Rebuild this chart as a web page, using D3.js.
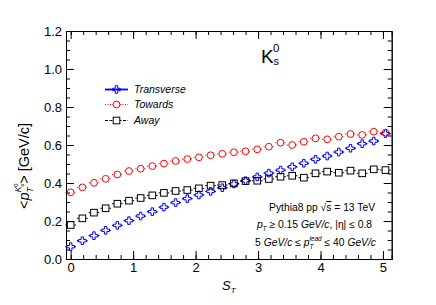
<!DOCTYPE html>
<html>
<head>
<meta charset="utf-8">
<script src="https://d3js.org/d3.v7.min.js"></script>
<style>
  body { margin: 0; background: #fff; }
  text { font-family: "Liberation Sans", Arial, Helvetica, sans-serif; fill: #000; }
  .it { font-style: italic; }
</style>
</head>
<body>
<script>
// S_T bin positions
var sT = [0.00, 0.187, 0.373, 0.56, 0.747, 0.933, 1.12, 1.307, 1.493, 1.68, 1.867, 2.053, 2.24, 2.427,
          2.613, 2.80, 2.987, 3.173, 3.36, 3.547, 3.733, 3.92, 4.107, 4.293, 4.48, 4.667, 4.853, 5.04];

// <pT> of K0s per region
var transverse = [0.065, 0.096, 0.123, 0.151, 0.177, 0.202, 0.226, 0.249, 0.273, 0.297, 0.318, 0.337, 0.356, 0.375,
                  0.395, 0.412, 0.432, 0.452, 0.468, 0.485, 0.504, 0.525, 0.542, 0.563, 0.583, 0.607, 0.621, 0.660];
var towards = [0.351, 0.377, 0.401, 0.422, 0.445, 0.463, 0.475, 0.489, 0.502, 0.516, 0.526, 0.535, 0.546, 0.554,
               0.562, 0.567, 0.577, 0.591, 0.612, 0.600, 0.617, 0.635, 0.630, 0.644, 0.658, 0.653, 0.670, 0.665];
var away = [0.179, 0.214, 0.244, 0.267, 0.291, 0.307, 0.321, 0.335, 0.348, 0.358, 0.363, 0.372, 0.386, 0.389,
            0.398, 0.410, 0.412, 0.421, 0.433, 0.438, 0.428, 0.451, 0.460, 0.454, 0.465, 0.451, 0.472, 0.468];

var xTicks = [0, 1, 2, 3, 4, 5];
var yTicks = [0, 0.2, 0.4, 0.6, 0.8, 1.0, 1.2];

var W = 436, H = 305;
var L = 66, R = 391.7, T = 31, B = 259;
var binHalf = 0.085;

var svg = d3.select("body").append("svg").attr("width", W).attr("height", H);
svg.append("rect").attr("width", W).attr("height", H).attr("fill", "#fff");

var x = d3.scaleLinear().domain([-0.075, 5.14]).range([L, R]);
var y = d3.scaleLinear().domain([0, 1.2]).range([B, T]);

//Axes: major + minor ticks, pointing inward, on all four sides
var xMinor = d3.range(0, 5.15, 0.2);
var yMinor = d3.range(0, 1.201, 0.05);

function styleAxis(g) {
  g.select(".domain").attr("stroke", "#000").attr("stroke-width", 1);
  g.selectAll(".tick line").attr("stroke", "#000");
}

svg.append("g").attr("transform", "translate(0," + B + ")")
  .call(d3.axisBottom(x).tickValues(xMinor).tickSize(-4).tickFormat(""))
  .call(styleAxis);
svg.append("g").attr("transform", "translate(0," + B + ")")
  .call(d3.axisBottom(x).tickValues(xTicks).tickSizeInner(-8).tickSizeOuter(0).tickPadding(4).tickFormat(d3.format("d")))
  .call(styleAxis)
  .selectAll("text").style("font-size", "13px");
svg.append("g").attr("transform", "translate(0," + T + ")")
  .call(d3.axisTop(x).tickValues(xMinor).tickSize(-4).tickFormat(""))
  .call(styleAxis);
svg.append("g").attr("transform", "translate(0," + T + ")")
  .call(d3.axisTop(x).tickValues(xTicks).tickSizeInner(-8).tickSizeOuter(0).tickFormat(""))
  .call(styleAxis);

svg.append("g").attr("transform", "translate(" + L + ",0)")
  .call(d3.axisLeft(y).tickValues(yMinor).tickSize(-4).tickFormat(""))
  .call(styleAxis);
svg.append("g").attr("transform", "translate(" + L + ",0)")
  .call(d3.axisLeft(y).tickValues(yTicks).tickSizeInner(-8).tickSizeOuter(0).tickPadding(4).tickFormat(d3.format(".1f")))
  .call(styleAxis)
  .selectAll("text").style("font-size", "13px");
svg.append("g").attr("transform", "translate(" + R + ",0)")
  .call(d3.axisRight(y).tickValues(yMinor).tickSize(-4).tickFormat(""))
  .call(styleAxis);
svg.append("g").attr("transform", "translate(" + R + ",0)")
  .call(d3.axisRight(y).tickValues(yTicks).tickSizeInner(-8).tickSizeOuter(0).tickFormat(""))
  .call(styleAxis);

//Markers
var crossPath = function(s) {
  var a = s, b = s * 0.32;
  return "M" + (-b) + "," + (-a) + "H" + b + "V" + (-b) + "H" + a + "V" + b + "H" + b + "V" + a +
         "H" + (-b) + "V" + b + "H" + (-a) + "V" + (-b) + "H" + (-b) + "Z";
};

var series = [
  {name: "Transverse", vals: transverse, color: "#0000ff", dash: null, width: 1.3, marker: "cross"},
  {name: "Towards", vals: towards, color: "#ff0000", dash: "1,1.5", width: 1, marker: "circle"},
  {name: "Away", vals: away, color: "#000000", dash: "3,1.5", width: 1, marker: "square"}
];

function drawMarker(g, type, color) {
  if (type === "cross") {
    g.append("path").attr("d", crossPath(3.8)).attr("fill", "none").attr("stroke", color).attr("stroke-width", 1);
  } else if (type === "circle") {
    g.append("circle").attr("r", 3.4).attr("fill", "none").attr("stroke", color).attr("stroke-width", 1);
  } else {
    g.append("rect").attr("x", -3.3).attr("y", -3.3).attr("width", 6.6).attr("height", 6.6)
      .attr("fill", "none").attr("stroke", color).attr("stroke-width", 1);
  }
}

series.forEach(function(s) {
  var g = svg.append("g");
  sT.forEach(function(v, i) {
    var cx = x(v), cy = y(s.vals[i]);
    var x0 = x(v - binHalf), x1 = x(v + binHalf);
    var gap = 3.6;
    [[x0, cx - gap], [cx + gap, x1]].forEach(function(seg) {
      g.append("line").attr("x1", seg[0]).attr("x2", seg[1]).attr("y1", cy).attr("y2", cy)
        .attr("stroke", s.color).attr("stroke-width", s.width).attr("stroke-dasharray", s.dash);
    });
    var m = g.append("g").attr("transform", "translate(" + cx + "," + cy + ")");
    drawMarker(m, s.marker, s.color);
  });
});

//Legend
var legRows = [89.5, 104.5, 120.5];
series.forEach(function(s, i) {
  var ly = legRows[i];
  var lg = svg.append("g");
  lg.append("line").attr("x1", 105).attr("x2", 128).attr("y1", ly).attr("y2", ly)
    .attr("stroke", s.color).attr("stroke-width", s.name === "Transverse" ? 1.8 : 1)
    .attr("stroke-dasharray", s.dash);
  var m = lg.append("g").attr("transform", "translate(116.5," + ly + ")");
  if (s.marker !== "cross") m.append("rect").attr("x", -3.5).attr("y", -3.5).attr("width", 7).attr("height", 7).attr("fill", "#fff");
  drawMarker(m, s.marker, s.color);
  lg.append("text").attr("class", "it").attr("x", 134).attr("y", ly + 3.8)
    .style("font-size", "10.5px").text(s.name);
});

//Axis titles
var xt = svg.append("text").attr("x", 222).attr("y", 290).style("font-size", "13px");
xt.append("tspan").attr("class", "it").text("S");
xt.append("tspan").attr("class", "it").attr("dy", 3).style("font-size", "8px").text("T");

var yt = svg.append("text").attr("transform", "translate(29,166) rotate(-90)")
  .attr("text-anchor", "middle").style("font-size", "14.5px");
yt.append("tspan").text("<");
yt.append("tspan").attr("class", "it").text("p");
yt.append("tspan").attr("class", "it").attr("dy", 4).style("font-size", "8.5px").text("T");
yt.append("tspan").attr("class", "it").attr("dx", -5).attr("dy", -12).style("font-size", "8.5px").text("K");
yt.append("tspan").attr("dy", -3).style("font-size", "6px").text("0");
yt.append("tspan").attr("dx", -3.5).attr("dy", 5.5).style("font-size", "6px").text("s");
yt.append("tspan").attr("dy", 5.5).text(">");
yt.append("tspan").text(" [GeV/c]");

//Particle label
svg.append("text").attr("x", 261).attr("y", 62.5).style("font-size", "19px").text("K");
svg.append("text").attr("x", 273).attr("y", 51.5).style("font-size", "11.5px").text("0");
svg.append("text").attr("x", 273.5).attr("y", 65).style("font-size", "11px").text("s");

//Selection info
var fs = "10.3px";
var t1 = svg.append("text").attr("x", 375).attr("y", 211).attr("text-anchor", "end").style("font-size", fs);
t1.append("tspan").text("Pythia8 pp \u221A");
t1.append("tspan").style("text-decoration", "overline").text("s");
t1.append("tspan").text(" = 13 TeV");

var t2 = svg.append("text").attr("x", 372).attr("y", 228).attr("text-anchor", "end").style("font-size", fs);
t2.append("tspan").attr("class", "it").text("p");
t2.append("tspan").attr("class", "it").attr("dy", 3).style("font-size", "6.5px").text("T");
t2.append("tspan").attr("dy", -3).text(" \u2265 0.15 ");
t2.append("tspan").attr("class", "it").text("GeV/c");
t2.append("tspan").text(", |\u03B7| \u2264 0.8");

var t3 = svg.append("text").attr("x", 376).attr("y", 246).attr("text-anchor", "end").style("font-size", fs);
t3.append("tspan").text("5 ");
t3.append("tspan").attr("class", "it").text("GeV/c");
t3.append("tspan").text(" \u2264  ");
t3.append("tspan").attr("class", "it").text("p");
t3.append("tspan").attr("class", "it").attr("dy", 3).style("font-size", "6.5px").text("T");
t3.append("tspan").attr("class", "it").attr("dx", -4).attr("dy", -8).style("font-size", "6.5px").text("lead");
t3.append("tspan").attr("dy", 5).text(" \u2264 40 ");
t3.append("tspan").attr("class", "it").text("GeV/c");
</script>
</body>
</html>
